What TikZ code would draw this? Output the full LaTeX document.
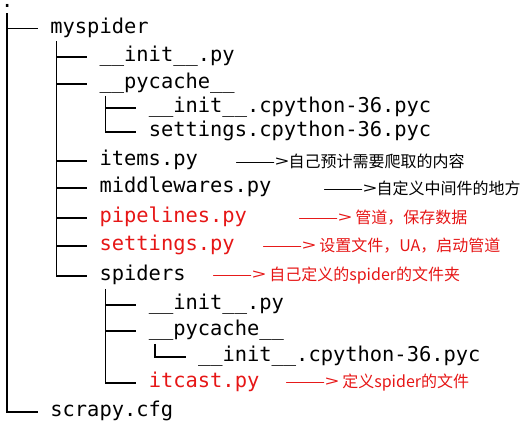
\documentclass[tikz,border=0pt]{standalone}
\usepackage{fontspec}
\setmonofont{DejaVu Sans Mono}
\newfontfamily\cjk{Noto Sans CJK SC}
\definecolor{notered}{RGB}{230,22,22}
\newcommand{\notearrow}{\scalebox{1.5}[1]{——>}}

\begin{document}
\begin{tikzpicture}[x=1pt, y=-1pt,
	file/.style={anchor=west, inner sep=0pt, font=\ttfamily\fontsize{20.4}{24}\selectfont, text height=15pt, text depth=5pt},
	note/.style={anchor=west, inner sep=0pt, font=\cjk\fontsize{16}{19}\selectfont},
	tree/.style={line width=1.6pt}]

\useasboundingbox (0,0) rectangle (523,427);

% the listing, one row per entry
\node[file, text height=3pt, text depth=0pt] (root) at (1, 6.5) {.};
\foreach \y/\lv/\name/\col/\txt in {
	28.5/1/myspider/black/myspider,
	57/2/initA/black/\_\_init\_\_.py,
	84/2/pycacheA/black/\_\_pycache\_\_,
	108/3/cpyinitA/black/\_\_init\_\_.cpython-36.pyc,
	132/3/cpysettings/black/settings.cpython-36.pyc,
	161/2/items/black/items.py,
	188/2/middlewares/black/middlewares.py,
	218/2/pipelines/notered/pipelines.py,
	246/2/settings/notered/settings.py,
	276/2/spiders/black/spiders,
	305/3/initB/black/\_\_init\_\_.py,
	331/3/pycacheB/black/\_\_pycache\_\_,
	357/4/cpyinitB/black/\_\_init\_\_.cpython-36.pyc,
	383/3/itcast/notered/itcast.py,
	412/1/scrapycfg/black/scrapy.cfg} {
	\node[file, text=\col] (\name) at (1+49.2*\lv, \y) {\txt};
}

% tree lines
\coordinate (t0) at ([xshift=6.15pt]root.west);
\coordinate (t1) at ([xshift=6.15pt]myspider.west);
\coordinate (t2) at ([xshift=6.15pt]pycacheA.west);
\coordinate (t3) at ([xshift=6.15pt]spiders.west);
\coordinate (t4) at ([xshift=6.15pt]pycacheB.west);

\draw[tree] (t0 |- myspider.west) -- ([xshift=-12.3pt]myspider.west);
\draw[tree] ([yshift=-7pt]t0) |- ([xshift=-12.3pt]scrapycfg.west);

\foreach \c in {initA, pycacheA, items, middlewares, pipelines, settings} {
	\draw[tree] (t1 |- \c.west) -- ([xshift=-12.3pt]\c.west);
}
\draw[tree] ([yshift=-13pt]t1) |- ([xshift=-12.3pt]spiders.west);

\draw[tree] (t2 |- cpyinitA.west) -- ([xshift=-12.3pt]cpyinitA.west);
\draw[tree] ([yshift=-12pt]t2) |- ([xshift=-12.3pt]cpysettings.west);

\foreach \c in {initB, pycacheB} {
	\draw[tree] (t3 |- \c.west) -- ([xshift=-12.3pt]\c.west);
}
\draw[tree] ([yshift=-13pt]t3) |- ([xshift=-12.3pt]itcast.west);

\draw[tree] ([yshift=-13pt]t4) |- ([xshift=-12.3pt]cpyinitB.west);

% notes
\node[note] (itemsnote) at (235, 161) {\notearrow 自己预计需要爬取的内容};
\node[note] (middlewaresnote) at (323, 188) {\notearrow 自定义中间件的地方};
\node[note, text=notered] (pipelinesnote) at (298, 218) {\notearrow\ 管道，保存数据};
\node[note, text=notered] (settingsnote) at (262, 246) {\notearrow\ 设置文件，UA，启动管道};
\node[note, text=notered] (spidersnote) at (212, 276) {\notearrow\ 自己定义的spider的文件夹};
\node[note, text=notered] (itcastnote) at (285, 383) {\notearrow\ 定义spider的文件};

\end{tikzpicture}
\end{document}
